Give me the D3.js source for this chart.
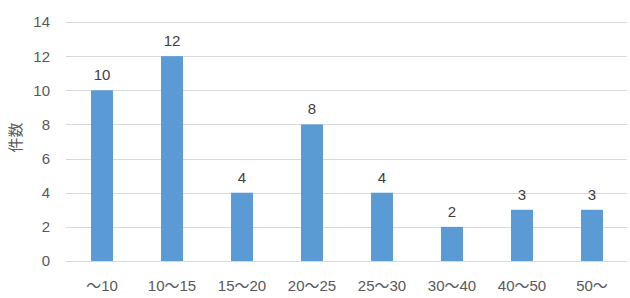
<!DOCTYPE html>
<html>
<head>
<meta charset="utf-8">
<script src="https://cdn.jsdelivr.net/npm/d3@7"></script>
<style>
  body { margin: 0; background: #fff; }
  text { font-family: "Liberation Sans", "Noto Sans CJK JP", sans-serif; }
</style>
</head>
<body>
<svg id="chart" width="630" height="298"></svg>
<script>
// chart data
const categories = ["～10", "10～15", "15～20", "20～25", "25～30", "30～40", "40～50", "50～"];
const counts = [10, 12, 4, 8, 4, 2, 3, 3];
const yTicks = [0, 2, 4, 6, 8, 10, 12, 14];
const yTitle = "件数";

const svg = d3.select("#chart");
const margin = { left: 67, right: 3, top: 22, bottom: 37 };
const W = 630, H = 298;

const x = d3.scaleBand()
  .domain(categories)
  .range([margin.left, W - margin.right])
  .paddingInner(0.686)
  .paddingOuter(0.343);

const y = d3.scaleLinear()
  .domain([0, 14])
  .range([H - margin.bottom, margin.top]);

// gridlines
svg.append("g")
  .selectAll("line")
  .data(yTicks)
  .join("line")
    .attr("x1", margin.left - 1)
    .attr("x2", W - margin.right)
    .attr("y1", d => Math.round(y(d)) + 0.5)
    .attr("y2", d => Math.round(y(d)) + 0.5)
    .attr("stroke", "#d9d9d9")
    .attr("stroke-width", 1);

// y tick labels
svg.append("g")
  .selectAll("text")
  .data(yTicks)
  .join("text")
    .attr("x", 50)
    .attr("y", d => y(d))
    .attr("dy", "0.36em")
    .attr("text-anchor", "end")
    .attr("font-size", 15)
    .attr("fill", "#595959")
    .text(d => d);

// y title
svg.append("text")
  .attr("transform", `translate(21,${(y(0) + y(14)) / 2 - 4}) rotate(-90)`)
  .attr("text-anchor", "middle")
  .attr("font-size", 15)
  .attr("fill", "#595959")
  .text(yTitle);

// bars
svg.append("g")
  .selectAll("rect")
  .data(counts)
  .join("rect")
    .attr("x", (d, i) => x(categories[i]))
    .attr("width", x.bandwidth())
    .attr("y", d => y(d))
    .attr("height", d => y(0) - y(d))
    .attr("fill", "#5b9bd5");

// value labels
svg.append("g")
  .selectAll("text")
  .data(counts)
  .join("text")
    .attr("x", (d, i) => x(categories[i]) + x.bandwidth() / 2)
    .attr("y", d => y(d) - 10)
    .attr("text-anchor", "middle")
    .attr("font-size", 15)
    .attr("fill", "#404040")
    .text(d => d);

// category labels
svg.append("g")
  .selectAll("text")
  .data(categories)
  .join("text")
    .attr("x", d => x(d) + x.bandwidth() / 2)
    .attr("y", 291)
    .attr("text-anchor", "middle")
    .attr("font-size", 15)
    .attr("fill", "#595959")
    .text(d => d);
</script>
</body>
</html>
